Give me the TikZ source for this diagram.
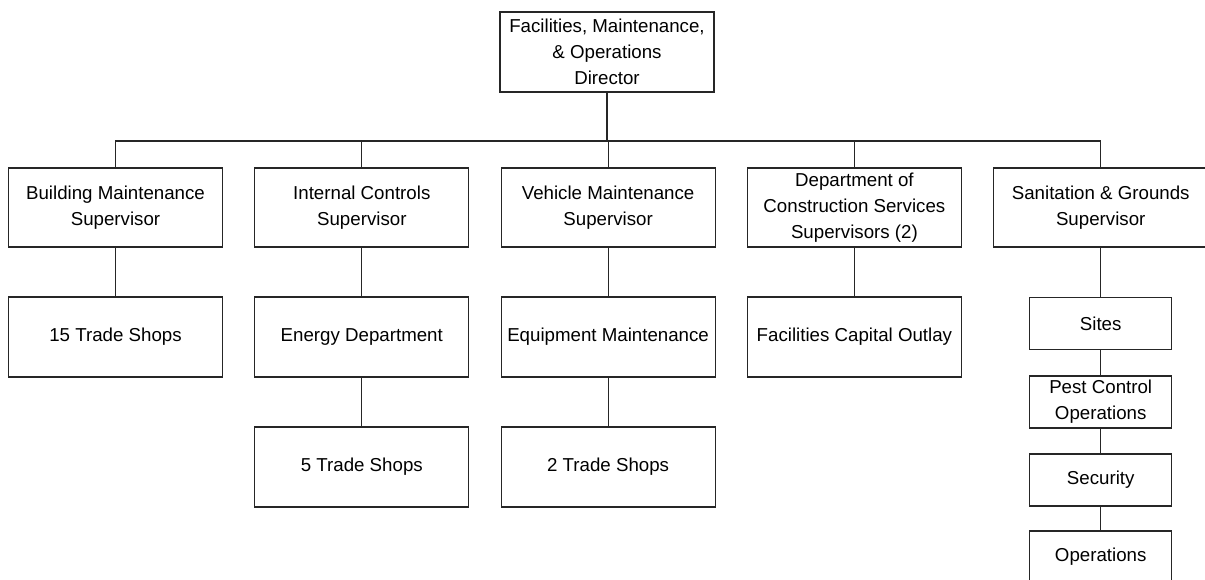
\documentclass[tikz,border=0pt]{standalone}
\usepackage{fontspec}
\setmainfont{Liberation Sans}
\begin{document}
\begin{tikzpicture}[x=1pt,y=-1pt,
  every node/.style={font=\fontsize{18.7}{25.7}\selectfont},
  unit/.style={draw=black!85, line width=1.1pt, inner sep=0pt, align=center,
    minimum width=214pt, minimum height=80pt},
  smallunit/.style={unit, minimum width=142pt, minimum height=52pt},
  link/.style={draw=black!85, line width=1.1pt}]
\useasboundingbox (0,0) rectangle (1205,580);
\clip (0,0) rectangle (1205,580);
\fill[white] (0,0) rectangle (1205,580);

% top
\node[unit] (dir) at (607,52) {Facilities, Maintenance,\\ \& Operations\\ Director};

% supervisors
\node[unit, minimum height=79pt] (bm) at (115.5,207.5) {Building Maintenance\\ Supervisor};
\node[unit, minimum height=79pt] (ic) at (361.8,207.5) {Internal Controls\\ Supervisor};
\node[unit, minimum height=79pt] (vm) at (608.1,207.5) {Vehicle Maintenance\\ Supervisor};
\node[unit, minimum height=79pt] (dc) at (854.4,207.5) {Department of\\ Construction Services\\ Supervisors (2)};
\node[unit, minimum height=79pt] (sg) at (1100.7,207.5) {Sanitation \& Grounds\\ Supervisor};

% second level
\node[unit] (ts15) at (115.5,337) {15 Trade Shops};
\node[unit] (en) at (361.8,337) {Energy Department};
\node[unit] (eq) at (608.1,337) {Equipment Maintenance};
\node[unit] (fc) at (854.4,337) {Facilities Capital Outlay};

% third level
\node[unit] (ts5) at (361.8,467) {5 Trade Shops};
\node[unit] (ts2) at (608.1,467) {2 Trade Shops};

% sanitation chain
\node[smallunit] (sites) at (1100.7,323.5) {Sites};
\node[smallunit] (pest) at (1100.7,402) {Pest Control\\ Operations};
\node[smallunit] (sec) at (1100.7,480) {Security};
\node[smallunit] (ops) at (1100.7,557) {Operations};

% connectors
\coordinate (bus) at (607,141);
\draw[link] (dir.south) -- (bus);
\foreach \n in {bm,ic,vm,dc,sg} \draw[link] (bus) -| (\n.north);
\draw[link] (bm.south) -- (ts15.north);
\draw[link] (ic.south) -- (en.north);
\draw[link] (en.south) -- (ts5.north);
\draw[link] (vm.south) -- (eq.north);
\draw[link] (eq.south) -- (ts2.north);
\draw[link] (dc.south) -- (fc.north);
\draw[link] (sg.south) -- (sites.north);
\draw[link] (sites.south) -- (pest.north);
\draw[link] (pest.south) -- (sec.north);
\draw[link] (sec.south) -- (ops.north);
\end{tikzpicture}
\end{document}
